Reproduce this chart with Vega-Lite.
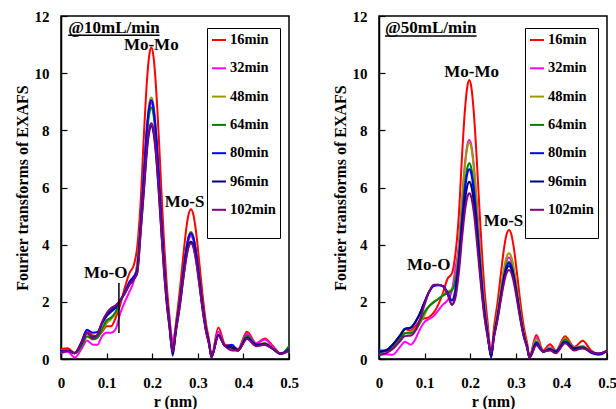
{
"$schema":"https://vega.github.io/schema/vega-lite/v6.json",
"background":"white",
"padding":{"left":13,"top":8,"right":5,"bottom":0},
"config":{
 "font":"Liberation Serif",
 "view":{"stroke":"black","strokeWidth":1.5},
 "axis":{"grid":false,"domainColor":"black","domainWidth":1.5,"tickColor":"black","tickSize":-6,"tickWidth":1.2,"labelFont":"Liberation Serif","labelFontWeight":"bold","labelFontSize":15,"labelColor":"black","titleFont":"Liberation Serif","titleFontWeight":"bold","titleFontSize":16,"titleColor":"black","labelFlush":false},
 "axisX":{"labelPadding":22,"titlePadding":3},
 "axisY":{"labelPadding":18,"titlePadding":4}
},
"datasets":{
"L":[
{"s":"16min","r":0,"v":0.35},{"s":"16min","r":0.015,"v":0.38},{"s":"16min","r":0.03,"v":0.2},{"s":"16min","r":0.045,"v":0.6},{"s":"16min","r":0.057,"v":1.0},{"s":"16min","r":0.07,"v":0.82},{"s":"16min","r":0.08,"v":0.8},{"s":"16min","r":0.09,"v":0.95},{"s":"16min","r":0.1,"v":1.15},{"s":"16min","r":0.11,"v":1.15},{"s":"16min","r":0.12,"v":1.45},{"s":"16min","r":0.13,"v":1.9},{"s":"16min","r":0.14,"v":2.5},{"s":"16min","r":0.15,"v":3.0},{"s":"16min","r":0.16,"v":3.3},{"s":"16min","r":0.167,"v":3.9},{"s":"16min","r":0.175,"v":5.6},{"s":"16min","r":0.182,"v":7.91},{"s":"16min","r":0.189,"v":9.85},{"s":"16min","r":0.194,"v":10.68},{"s":"16min","r":0.198,"v":10.9},{"s":"16min","r":0.202,"v":10.68},{"s":"16min","r":0.208,"v":9.61},{"s":"16min","r":0.214,"v":7.91},{"s":"16min","r":0.22,"v":5.95},{"s":"16min","r":0.226,"v":4.09},{"s":"16min","r":0.232,"v":2.57},{"s":"16min","r":0.238,"v":1.47},{"s":"16min","r":0.245,"v":0.45},{"s":"16min","r":0.252,"v":1.25},{"s":"16min","r":0.26,"v":2.31},{"s":"16min","r":0.268,"v":3.58},{"s":"16min","r":0.275,"v":4.6},{"s":"16min","r":0.28,"v":5.07},{"s":"16min","r":0.285,"v":5.24},{"s":"16min","r":0.29,"v":5.07},{"s":"16min","r":0.296,"v":4.47},{"s":"16min","r":0.303,"v":3.42},{"s":"16min","r":0.31,"v":2.31},{"s":"16min","r":0.318,"v":1.25},{"s":"16min","r":0.325,"v":0.64},{"s":"16min","r":0.33,"v":0.1},{"s":"16min","r":0.345,"v":1.1},{"s":"16min","r":0.36,"v":0.5},{"s":"16min","r":0.375,"v":0.45},{"s":"16min","r":0.388,"v":0.35},{"s":"16min","r":0.408,"v":0.95},{"s":"16min","r":0.428,"v":0.55},{"s":"16min","r":0.447,"v":0.72},{"s":"16min","r":0.465,"v":0.45},{"s":"16min","r":0.482,"v":0.2},{"s":"16min","r":0.5,"v":0.3},
{"s":"32min","r":0,"v":0.2},{"s":"32min","r":0.015,"v":0.25},{"s":"32min","r":0.03,"v":0.05},{"s":"32min","r":0.045,"v":0.35},{"s":"32min","r":0.057,"v":0.65},{"s":"32min","r":0.07,"v":0.5},{"s":"32min","r":0.08,"v":0.5},{"s":"32min","r":0.09,"v":0.8},{"s":"32min","r":0.1,"v":0.92},{"s":"32min","r":0.11,"v":0.92},{"s":"32min","r":0.12,"v":1.05},{"s":"32min","r":0.13,"v":1.6},{"s":"32min","r":0.14,"v":2.0},{"s":"32min","r":0.15,"v":2.35},{"s":"32min","r":0.16,"v":2.75},{"s":"32min","r":0.167,"v":3.3},{"s":"32min","r":0.175,"v":4.9},{"s":"32min","r":0.182,"v":6.5},{"s":"32min","r":0.189,"v":8.09},{"s":"32min","r":0.194,"v":8.77},{"s":"32min","r":0.198,"v":8.95},{"s":"32min","r":0.202,"v":8.77},{"s":"32min","r":0.208,"v":7.89},{"s":"32min","r":0.214,"v":6.5},{"s":"32min","r":0.22,"v":4.89},{"s":"32min","r":0.226,"v":3.36},{"s":"32min","r":0.232,"v":2.11},{"s":"32min","r":0.238,"v":1.3},{"s":"32min","r":0.245,"v":0.65},{"s":"32min","r":0.252,"v":1.1},{"s":"32min","r":0.26,"v":1.89},{"s":"32min","r":0.268,"v":2.94},{"s":"32min","r":0.275,"v":3.77},{"s":"32min","r":0.28,"v":4.16},{"s":"32min","r":0.285,"v":4.3},{"s":"32min","r":0.29,"v":4.16},{"s":"32min","r":0.296,"v":3.67},{"s":"32min","r":0.303,"v":2.81},{"s":"32min","r":0.31,"v":1.89},{"s":"32min","r":0.318,"v":1.03},{"s":"32min","r":0.325,"v":0.52},{"s":"32min","r":0.33,"v":0.1},{"s":"32min","r":0.345,"v":0.95},{"s":"32min","r":0.36,"v":0.45},{"s":"32min","r":0.375,"v":0.35},{"s":"32min","r":0.388,"v":0.3},{"s":"32min","r":0.408,"v":0.88},{"s":"32min","r":0.428,"v":0.55},{"s":"32min","r":0.447,"v":0.68},{"s":"32min","r":0.465,"v":0.4},{"s":"32min","r":0.482,"v":0.18},{"s":"32min","r":0.5,"v":0.35},
{"s":"48min","r":0,"v":0.3},{"s":"48min","r":0.015,"v":0.3},{"s":"48min","r":0.03,"v":0.2},{"s":"48min","r":0.045,"v":0.45},{"s":"48min","r":0.057,"v":0.78},{"s":"48min","r":0.07,"v":0.68},{"s":"48min","r":0.08,"v":0.75},{"s":"48min","r":0.09,"v":1.0},{"s":"48min","r":0.1,"v":1.25},{"s":"48min","r":0.11,"v":1.4},{"s":"48min","r":0.12,"v":1.6},{"s":"48min","r":0.13,"v":2.05},{"s":"48min","r":0.14,"v":2.3},{"s":"48min","r":0.15,"v":2.65},{"s":"48min","r":0.16,"v":2.85},{"s":"48min","r":0.167,"v":3.3},{"s":"48min","r":0.175,"v":4.9},{"s":"48min","r":0.182,"v":6.64},{"s":"48min","r":0.189,"v":8.27},{"s":"48min","r":0.194,"v":8.97},{"s":"48min","r":0.198,"v":9.15},{"s":"48min","r":0.202,"v":8.97},{"s":"48min","r":0.208,"v":8.07},{"s":"48min","r":0.214,"v":6.64},{"s":"48min","r":0.22,"v":5.0},{"s":"48min","r":0.226,"v":3.43},{"s":"48min","r":0.232,"v":2.16},{"s":"48min","r":0.238,"v":1.24},{"s":"48min","r":0.245,"v":0.3},{"s":"48min","r":0.252,"v":1.06},{"s":"48min","r":0.26,"v":1.96},{"s":"48min","r":0.268,"v":3.04},{"s":"48min","r":0.275,"v":3.9},{"s":"48min","r":0.28,"v":4.31},{"s":"48min","r":0.285,"v":4.45},{"s":"48min","r":0.29,"v":4.31},{"s":"48min","r":0.296,"v":3.8},{"s":"48min","r":0.303,"v":2.91},{"s":"48min","r":0.31,"v":1.96},{"s":"48min","r":0.318,"v":1.06},{"s":"48min","r":0.325,"v":0.54},{"s":"48min","r":0.33,"v":0.08},{"s":"48min","r":0.345,"v":0.85},{"s":"48min","r":0.36,"v":0.45},{"s":"48min","r":0.375,"v":0.4},{"s":"48min","r":0.388,"v":0.3},{"s":"48min","r":0.408,"v":0.8},{"s":"48min","r":0.428,"v":0.5},{"s":"48min","r":0.447,"v":0.55},{"s":"48min","r":0.465,"v":0.35},{"s":"48min","r":0.482,"v":0.18},{"s":"48min","r":0.5,"v":0.35},
{"s":"64min","r":0,"v":0.3},{"s":"64min","r":0.015,"v":0.3},{"s":"64min","r":0.03,"v":0.2},{"s":"64min","r":0.045,"v":0.45},{"s":"64min","r":0.057,"v":0.8},{"s":"64min","r":0.07,"v":0.7},{"s":"64min","r":0.08,"v":0.75},{"s":"64min","r":0.09,"v":1.05},{"s":"64min","r":0.1,"v":1.35},{"s":"64min","r":0.11,"v":1.45},{"s":"64min","r":0.12,"v":1.65},{"s":"64min","r":0.13,"v":2.05},{"s":"64min","r":0.14,"v":2.3},{"s":"64min","r":0.15,"v":2.6},{"s":"64min","r":0.16,"v":2.8},{"s":"64min","r":0.167,"v":3.2},{"s":"64min","r":0.175,"v":4.8},{"s":"64min","r":0.182,"v":6.39},{"s":"64min","r":0.189,"v":7.96},{"s":"64min","r":0.194,"v":8.62},{"s":"64min","r":0.198,"v":8.8},{"s":"64min","r":0.202,"v":8.62},{"s":"64min","r":0.208,"v":7.76},{"s":"64min","r":0.214,"v":6.39},{"s":"64min","r":0.22,"v":4.8},{"s":"64min","r":0.226,"v":3.3},{"s":"64min","r":0.232,"v":2.08},{"s":"64min","r":0.238,"v":1.19},{"s":"64min","r":0.245,"v":0.3},{"s":"64min","r":0.252,"v":1.05},{"s":"64min","r":0.26,"v":1.94},{"s":"64min","r":0.268,"v":3.01},{"s":"64min","r":0.275,"v":3.86},{"s":"64min","r":0.28,"v":4.26},{"s":"64min","r":0.285,"v":4.4},{"s":"64min","r":0.29,"v":4.26},{"s":"64min","r":0.296,"v":3.75},{"s":"64min","r":0.303,"v":2.87},{"s":"64min","r":0.31,"v":1.94},{"s":"64min","r":0.318,"v":1.05},{"s":"64min","r":0.325,"v":0.54},{"s":"64min","r":0.33,"v":0.08},{"s":"64min","r":0.345,"v":0.85},{"s":"64min","r":0.36,"v":0.45},{"s":"64min","r":0.375,"v":0.4},{"s":"64min","r":0.388,"v":0.3},{"s":"64min","r":0.408,"v":0.82},{"s":"64min","r":0.428,"v":0.5},{"s":"64min","r":0.447,"v":0.55},{"s":"64min","r":0.465,"v":0.35},{"s":"64min","r":0.482,"v":0.18},{"s":"64min","r":0.5,"v":0.45},
{"s":"80min","r":0,"v":0.28},{"s":"80min","r":0.015,"v":0.3},{"s":"80min","r":0.03,"v":0.22},{"s":"80min","r":0.045,"v":0.6},{"s":"80min","r":0.057,"v":1.02},{"s":"80min","r":0.07,"v":0.92},{"s":"80min","r":0.08,"v":0.95},{"s":"80min","r":0.09,"v":1.25},{"s":"80min","r":0.1,"v":1.5},{"s":"80min","r":0.11,"v":1.65},{"s":"80min","r":0.12,"v":1.8},{"s":"80min","r":0.13,"v":2.05},{"s":"80min","r":0.14,"v":2.35},{"s":"80min","r":0.15,"v":2.7},{"s":"80min","r":0.16,"v":2.9},{"s":"80min","r":0.167,"v":3.1},{"s":"80min","r":0.175,"v":4.8},{"s":"80min","r":0.182,"v":6.57},{"s":"80min","r":0.189,"v":8.18},{"s":"80min","r":0.194,"v":8.87},{"s":"80min","r":0.198,"v":9.05},{"s":"80min","r":0.202,"v":8.87},{"s":"80min","r":0.208,"v":7.98},{"s":"80min","r":0.214,"v":6.57},{"s":"80min","r":0.22,"v":4.94},{"s":"80min","r":0.226,"v":3.39},{"s":"80min","r":0.232,"v":2.14},{"s":"80min","r":0.238,"v":1.22},{"s":"80min","r":0.245,"v":0.12},{"s":"80min","r":0.252,"v":1.05},{"s":"80min","r":0.26,"v":1.94},{"s":"80min","r":0.268,"v":3.01},{"s":"80min","r":0.275,"v":3.86},{"s":"80min","r":0.28,"v":4.26},{"s":"80min","r":0.285,"v":4.4},{"s":"80min","r":0.29,"v":4.26},{"s":"80min","r":0.296,"v":3.75},{"s":"80min","r":0.303,"v":2.87},{"s":"80min","r":0.31,"v":1.94},{"s":"80min","r":0.318,"v":1.05},{"s":"80min","r":0.325,"v":0.54},{"s":"80min","r":0.33,"v":0.05},{"s":"80min","r":0.345,"v":0.85},{"s":"80min","r":0.36,"v":0.45},{"s":"80min","r":0.375,"v":0.5},{"s":"80min","r":0.388,"v":0.3},{"s":"80min","r":0.408,"v":0.75},{"s":"80min","r":0.428,"v":0.5},{"s":"80min","r":0.447,"v":0.5},{"s":"80min","r":0.465,"v":0.35},{"s":"80min","r":0.482,"v":0.18},{"s":"80min","r":0.5,"v":0.35},
{"s":"96min","r":0,"v":0.25},{"s":"96min","r":0.015,"v":0.28},{"s":"96min","r":0.03,"v":0.2},{"s":"96min","r":0.045,"v":0.55},{"s":"96min","r":0.057,"v":0.9},{"s":"96min","r":0.07,"v":0.75},{"s":"96min","r":0.08,"v":0.85},{"s":"96min","r":0.09,"v":1.25},{"s":"96min","r":0.1,"v":1.52},{"s":"96min","r":0.11,"v":1.72},{"s":"96min","r":0.12,"v":1.85},{"s":"96min","r":0.13,"v":2.05},{"s":"96min","r":0.14,"v":2.3},{"s":"96min","r":0.15,"v":2.6},{"s":"96min","r":0.16,"v":2.8},{"s":"96min","r":0.167,"v":3.0},{"s":"96min","r":0.175,"v":4.5},{"s":"96min","r":0.182,"v":5.92},{"s":"96min","r":0.189,"v":7.37},{"s":"96min","r":0.194,"v":7.99},{"s":"96min","r":0.198,"v":8.15},{"s":"96min","r":0.202,"v":7.99},{"s":"96min","r":0.208,"v":7.19},{"s":"96min","r":0.214,"v":5.92},{"s":"96min","r":0.22,"v":4.45},{"s":"96min","r":0.226,"v":3.06},{"s":"96min","r":0.232,"v":1.92},{"s":"96min","r":0.238,"v":1.1},{"s":"96min","r":0.245,"v":0.2},{"s":"96min","r":0.252,"v":0.98},{"s":"96min","r":0.26,"v":1.8},{"s":"96min","r":0.268,"v":2.8},{"s":"96min","r":0.275,"v":3.6},{"s":"96min","r":0.28,"v":3.97},{"s":"96min","r":0.285,"v":4.1},{"s":"96min","r":0.29,"v":3.97},{"s":"96min","r":0.296,"v":3.5},{"s":"96min","r":0.303,"v":2.68},{"s":"96min","r":0.31,"v":1.8},{"s":"96min","r":0.318,"v":0.98},{"s":"96min","r":0.325,"v":0.5},{"s":"96min","r":0.33,"v":0.08},{"s":"96min","r":0.345,"v":0.82},{"s":"96min","r":0.36,"v":0.45},{"s":"96min","r":0.375,"v":0.4},{"s":"96min","r":0.388,"v":0.3},{"s":"96min","r":0.408,"v":0.72},{"s":"96min","r":0.428,"v":0.5},{"s":"96min","r":0.447,"v":0.52},{"s":"96min","r":0.465,"v":0.35},{"s":"96min","r":0.482,"v":0.18},{"s":"96min","r":0.5,"v":0.3},
{"s":"102min","r":0,"v":0.25},{"s":"102min","r":0.015,"v":0.28},{"s":"102min","r":0.03,"v":0.2},{"s":"102min","r":0.045,"v":0.55},{"s":"102min","r":0.057,"v":0.92},{"s":"102min","r":0.07,"v":0.72},{"s":"102min","r":0.08,"v":0.85},{"s":"102min","r":0.09,"v":1.3},{"s":"102min","r":0.1,"v":1.6},{"s":"102min","r":0.11,"v":1.78},{"s":"102min","r":0.12,"v":1.88},{"s":"102min","r":0.13,"v":2.05},{"s":"102min","r":0.14,"v":2.3},{"s":"102min","r":0.15,"v":2.6},{"s":"102min","r":0.16,"v":2.8},{"s":"102min","r":0.167,"v":3.0},{"s":"102min","r":0.175,"v":4.5},{"s":"102min","r":0.182,"v":5.99},{"s":"102min","r":0.189,"v":7.46},{"s":"102min","r":0.194,"v":8.09},{"s":"102min","r":0.198,"v":8.25},{"s":"102min","r":0.202,"v":8.09},{"s":"102min","r":0.208,"v":7.28},{"s":"102min","r":0.214,"v":5.99},{"s":"102min","r":0.22,"v":4.5},{"s":"102min","r":0.226,"v":3.09},{"s":"102min","r":0.232,"v":1.95},{"s":"102min","r":0.238,"v":1.11},{"s":"102min","r":0.245,"v":0.25},{"s":"102min","r":0.252,"v":0.97},{"s":"102min","r":0.26,"v":1.78},{"s":"102min","r":0.268,"v":2.77},{"s":"102min","r":0.275,"v":3.55},{"s":"102min","r":0.28,"v":3.92},{"s":"102min","r":0.285,"v":4.05},{"s":"102min","r":0.29,"v":3.92},{"s":"102min","r":0.296,"v":3.45},{"s":"102min","r":0.303,"v":2.64},{"s":"102min","r":0.31,"v":1.78},{"s":"102min","r":0.318,"v":0.97},{"s":"102min","r":0.325,"v":0.49},{"s":"102min","r":0.33,"v":0.08},{"s":"102min","r":0.345,"v":0.8},{"s":"102min","r":0.36,"v":0.45},{"s":"102min","r":0.375,"v":0.3},{"s":"102min","r":0.388,"v":0.3},{"s":"102min","r":0.408,"v":0.7},{"s":"102min","r":0.428,"v":0.45},{"s":"102min","r":0.447,"v":0.5},{"s":"102min","r":0.465,"v":0.35},{"s":"102min","r":0.482,"v":0.18},{"s":"102min","r":0.5,"v":0.3}
],
"R":[
{"s":"16min","r":0,"v":0.3},{"s":"16min","r":0.015,"v":0.3},{"s":"16min","r":0.03,"v":0.45},{"s":"16min","r":0.045,"v":0.75},{"s":"16min","r":0.057,"v":1.05},{"s":"16min","r":0.07,"v":1.0},{"s":"16min","r":0.08,"v":1.15},{"s":"16min","r":0.09,"v":1.35},{"s":"16min","r":0.1,"v":1.42},{"s":"16min","r":0.11,"v":1.47},{"s":"16min","r":0.12,"v":1.62},{"s":"16min","r":0.13,"v":1.9},{"s":"16min","r":0.14,"v":2.3},{"s":"16min","r":0.15,"v":2.8},{"s":"16min","r":0.16,"v":3.0},{"s":"16min","r":0.167,"v":3.6},{"s":"16min","r":0.175,"v":5.0},{"s":"16min","r":0.182,"v":7.09},{"s":"16min","r":0.189,"v":8.82},{"s":"16min","r":0.194,"v":9.56},{"s":"16min","r":0.198,"v":9.76},{"s":"16min","r":0.202,"v":9.56},{"s":"16min","r":0.208,"v":8.61},{"s":"16min","r":0.214,"v":7.09},{"s":"16min","r":0.22,"v":5.33},{"s":"16min","r":0.226,"v":3.66},{"s":"16min","r":0.232,"v":2.3},{"s":"16min","r":0.238,"v":1.32},{"s":"16min","r":0.246,"v":0.15},{"s":"16min","r":0.252,"v":1.08},{"s":"16min","r":0.26,"v":1.98},{"s":"16min","r":0.268,"v":3.08},{"s":"16min","r":0.275,"v":3.96},{"s":"16min","r":0.28,"v":4.37},{"s":"16min","r":0.285,"v":4.51},{"s":"16min","r":0.29,"v":4.37},{"s":"16min","r":0.296,"v":3.85},{"s":"16min","r":0.303,"v":2.95},{"s":"16min","r":0.31,"v":1.98},{"s":"16min","r":0.318,"v":1.08},{"s":"16min","r":0.325,"v":0.55},{"s":"16min","r":0.33,"v":0.1},{"s":"16min","r":0.345,"v":0.84},{"s":"16min","r":0.36,"v":0.3},{"s":"16min","r":0.375,"v":0.52},{"s":"16min","r":0.388,"v":0.3},{"s":"16min","r":0.408,"v":0.8},{"s":"16min","r":0.428,"v":0.42},{"s":"16min","r":0.447,"v":0.64},{"s":"16min","r":0.465,"v":0.3},{"s":"16min","r":0.482,"v":0.18},{"s":"16min","r":0.5,"v":0.3},
{"s":"32min","r":0,"v":0.15},{"s":"32min","r":0.015,"v":0.17},{"s":"32min","r":0.03,"v":0.15},{"s":"32min","r":0.045,"v":0.4},{"s":"32min","r":0.057,"v":0.6},{"s":"32min","r":0.07,"v":0.5},{"s":"32min","r":0.08,"v":0.7},{"s":"32min","r":0.09,"v":1.05},{"s":"32min","r":0.1,"v":1.3},{"s":"32min","r":0.11,"v":1.4},{"s":"32min","r":0.12,"v":1.5},{"s":"32min","r":0.13,"v":1.7},{"s":"32min","r":0.14,"v":1.9},{"s":"32min","r":0.15,"v":2.05},{"s":"32min","r":0.16,"v":2.4},{"s":"32min","r":0.167,"v":3.1},{"s":"32min","r":0.175,"v":4.0},{"s":"32min","r":0.182,"v":5.56},{"s":"32min","r":0.189,"v":6.92},{"s":"32min","r":0.194,"v":7.51},{"s":"32min","r":0.198,"v":7.66},{"s":"32min","r":0.202,"v":7.51},{"s":"32min","r":0.208,"v":6.76},{"s":"32min","r":0.214,"v":5.56},{"s":"32min","r":0.22,"v":4.18},{"s":"32min","r":0.226,"v":2.87},{"s":"32min","r":0.232,"v":1.81},{"s":"32min","r":0.238,"v":1.03},{"s":"32min","r":0.246,"v":0.35},{"s":"32min","r":0.252,"v":0.85},{"s":"32min","r":0.26,"v":1.56},{"s":"32min","r":0.268,"v":2.43},{"s":"32min","r":0.275,"v":3.11},{"s":"32min","r":0.28,"v":3.44},{"s":"32min","r":0.285,"v":3.55},{"s":"32min","r":0.29,"v":3.44},{"s":"32min","r":0.296,"v":3.03},{"s":"32min","r":0.303,"v":2.32},{"s":"32min","r":0.31,"v":1.56},{"s":"32min","r":0.318,"v":0.85},{"s":"32min","r":0.325,"v":0.43},{"s":"32min","r":0.33,"v":0.05},{"s":"32min","r":0.345,"v":0.75},{"s":"32min","r":0.36,"v":0.26},{"s":"32min","r":0.375,"v":0.4},{"s":"32min","r":0.388,"v":0.25},{"s":"32min","r":0.408,"v":0.72},{"s":"32min","r":0.428,"v":0.4},{"s":"32min","r":0.447,"v":0.45},{"s":"32min","r":0.465,"v":0.25},{"s":"32min","r":0.482,"v":0.18},{"s":"32min","r":0.5,"v":0.28},
{"s":"48min","r":0,"v":0.25},{"s":"48min","r":0.015,"v":0.28},{"s":"48min","r":0.03,"v":0.4},{"s":"48min","r":0.045,"v":0.65},{"s":"48min","r":0.057,"v":0.9},{"s":"48min","r":0.07,"v":0.95},{"s":"48min","r":0.08,"v":1.05},{"s":"48min","r":0.09,"v":1.25},{"s":"48min","r":0.1,"v":1.55},{"s":"48min","r":0.11,"v":1.85},{"s":"48min","r":0.12,"v":2.0},{"s":"48min","r":0.13,"v":2.1},{"s":"48min","r":0.14,"v":2.25},{"s":"48min","r":0.15,"v":2.35},{"s":"48min","r":0.16,"v":2.45},{"s":"48min","r":0.167,"v":2.8},{"s":"48min","r":0.175,"v":3.9},{"s":"48min","r":0.182,"v":5.5},{"s":"48min","r":0.189,"v":6.85},{"s":"48min","r":0.194,"v":7.43},{"s":"48min","r":0.198,"v":7.58},{"s":"48min","r":0.202,"v":7.43},{"s":"48min","r":0.208,"v":6.69},{"s":"48min","r":0.214,"v":5.5},{"s":"48min","r":0.22,"v":4.14},{"s":"48min","r":0.226,"v":2.84},{"s":"48min","r":0.232,"v":1.79},{"s":"48min","r":0.238,"v":1.02},{"s":"48min","r":0.246,"v":0.1},{"s":"48min","r":0.252,"v":0.88},{"s":"48min","r":0.26,"v":1.63},{"s":"48min","r":0.268,"v":2.53},{"s":"48min","r":0.275,"v":3.24},{"s":"48min","r":0.28,"v":3.58},{"s":"48min","r":0.285,"v":3.7},{"s":"48min","r":0.29,"v":3.58},{"s":"48min","r":0.296,"v":3.16},{"s":"48min","r":0.303,"v":2.42},{"s":"48min","r":0.31,"v":1.63},{"s":"48min","r":0.318,"v":0.88},{"s":"48min","r":0.325,"v":0.45},{"s":"48min","r":0.33,"v":0.05},{"s":"48min","r":0.345,"v":0.7},{"s":"48min","r":0.36,"v":0.26},{"s":"48min","r":0.375,"v":0.4},{"s":"48min","r":0.388,"v":0.25},{"s":"48min","r":0.408,"v":0.72},{"s":"48min","r":0.428,"v":0.4},{"s":"48min","r":0.447,"v":0.45},{"s":"48min","r":0.465,"v":0.25},{"s":"48min","r":0.482,"v":0.18},{"s":"48min","r":0.5,"v":0.28},
{"s":"64min","r":0,"v":0.25},{"s":"64min","r":0.015,"v":0.28},{"s":"64min","r":0.03,"v":0.38},{"s":"64min","r":0.045,"v":0.65},{"s":"64min","r":0.057,"v":0.9},{"s":"64min","r":0.07,"v":0.9},{"s":"64min","r":0.08,"v":1.0},{"s":"64min","r":0.09,"v":1.3},{"s":"64min","r":0.1,"v":1.65},{"s":"64min","r":0.11,"v":1.85},{"s":"64min","r":0.12,"v":1.98},{"s":"64min","r":0.13,"v":2.1},{"s":"64min","r":0.14,"v":2.22},{"s":"64min","r":0.15,"v":2.3},{"s":"64min","r":0.16,"v":2.4},{"s":"64min","r":0.167,"v":2.7},{"s":"64min","r":0.175,"v":3.55},{"s":"64min","r":0.182,"v":4.97},{"s":"64min","r":0.189,"v":6.19},{"s":"64min","r":0.194,"v":6.71},{"s":"64min","r":0.198,"v":6.85},{"s":"64min","r":0.202,"v":6.71},{"s":"64min","r":0.208,"v":6.04},{"s":"64min","r":0.214,"v":4.97},{"s":"64min","r":0.22,"v":3.74},{"s":"64min","r":0.226,"v":2.57},{"s":"64min","r":0.232,"v":1.62},{"s":"64min","r":0.238,"v":0.92},{"s":"64min","r":0.246,"v":0.1},{"s":"64min","r":0.252,"v":0.81},{"s":"64min","r":0.26,"v":1.5},{"s":"64min","r":0.268,"v":2.33},{"s":"64min","r":0.275,"v":2.98},{"s":"64min","r":0.28,"v":3.29},{"s":"64min","r":0.285,"v":3.4},{"s":"64min","r":0.29,"v":3.29},{"s":"64min","r":0.296,"v":2.9},{"s":"64min","r":0.303,"v":2.22},{"s":"64min","r":0.31,"v":1.5},{"s":"64min","r":0.318,"v":0.81},{"s":"64min","r":0.325,"v":0.41},{"s":"64min","r":0.33,"v":0.05},{"s":"64min","r":0.345,"v":0.6},{"s":"64min","r":0.36,"v":0.26},{"s":"64min","r":0.375,"v":0.35},{"s":"64min","r":0.388,"v":0.25},{"s":"64min","r":0.408,"v":0.68},{"s":"64min","r":0.428,"v":0.38},{"s":"64min","r":0.447,"v":0.42},{"s":"64min","r":0.465,"v":0.25},{"s":"64min","r":0.482,"v":0.18},{"s":"64min","r":0.5,"v":0.28},
{"s":"80min","r":0,"v":0.25},{"s":"80min","r":0.015,"v":0.3},{"s":"80min","r":0.03,"v":0.5},{"s":"80min","r":0.045,"v":0.8},{"s":"80min","r":0.057,"v":1.05},{"s":"80min","r":0.07,"v":1.1},{"s":"80min","r":0.08,"v":1.3},{"s":"80min","r":0.09,"v":1.6},{"s":"80min","r":0.1,"v":2.0},{"s":"80min","r":0.11,"v":2.35},{"s":"80min","r":0.12,"v":2.55},{"s":"80min","r":0.13,"v":2.58},{"s":"80min","r":0.14,"v":2.55},{"s":"80min","r":0.15,"v":2.35},{"s":"80min","r":0.16,"v":2.05},{"s":"80min","r":0.167,"v":2.4},{"s":"80min","r":0.175,"v":3.45},{"s":"80min","r":0.182,"v":4.82},{"s":"80min","r":0.189,"v":6.0},{"s":"80min","r":0.194,"v":6.51},{"s":"80min","r":0.198,"v":6.64},{"s":"80min","r":0.202,"v":6.51},{"s":"80min","r":0.208,"v":5.86},{"s":"80min","r":0.214,"v":4.82},{"s":"80min","r":0.22,"v":3.63},{"s":"80min","r":0.226,"v":2.49},{"s":"80min","r":0.232,"v":1.57},{"s":"80min","r":0.238,"v":0.9},{"s":"80min","r":0.246,"v":0.05},{"s":"80min","r":0.252,"v":0.8},{"s":"80min","r":0.26,"v":1.47},{"s":"80min","r":0.268,"v":2.29},{"s":"80min","r":0.275,"v":2.94},{"s":"80min","r":0.28,"v":3.24},{"s":"80min","r":0.285,"v":3.35},{"s":"80min","r":0.29,"v":3.24},{"s":"80min","r":0.296,"v":2.86},{"s":"80min","r":0.303,"v":2.19},{"s":"80min","r":0.31,"v":1.47},{"s":"80min","r":0.318,"v":0.8},{"s":"80min","r":0.325,"v":0.41},{"s":"80min","r":0.33,"v":0.05},{"s":"80min","r":0.345,"v":0.57},{"s":"80min","r":0.36,"v":0.26},{"s":"80min","r":0.375,"v":0.35},{"s":"80min","r":0.388,"v":0.25},{"s":"80min","r":0.408,"v":0.6},{"s":"80min","r":0.428,"v":0.38},{"s":"80min","r":0.447,"v":0.4},{"s":"80min","r":0.465,"v":0.22},{"s":"80min","r":0.482,"v":0.15},{"s":"80min","r":0.5,"v":0.28},
{"s":"96min","r":0,"v":0.25},{"s":"96min","r":0.015,"v":0.3},{"s":"96min","r":0.03,"v":0.5},{"s":"96min","r":0.045,"v":0.8},{"s":"96min","r":0.057,"v":1.05},{"s":"96min","r":0.07,"v":1.1},{"s":"96min","r":0.08,"v":1.3},{"s":"96min","r":0.09,"v":1.6},{"s":"96min","r":0.1,"v":2.0},{"s":"96min","r":0.11,"v":2.35},{"s":"96min","r":0.12,"v":2.58},{"s":"96min","r":0.13,"v":2.6},{"s":"96min","r":0.14,"v":2.55},{"s":"96min","r":0.15,"v":2.3},{"s":"96min","r":0.16,"v":1.9},{"s":"96min","r":0.167,"v":2.2},{"s":"96min","r":0.175,"v":3.2},{"s":"96min","r":0.182,"v":4.5},{"s":"96min","r":0.189,"v":5.6},{"s":"96min","r":0.194,"v":6.08},{"s":"96min","r":0.198,"v":6.2},{"s":"96min","r":0.202,"v":6.08},{"s":"96min","r":0.208,"v":5.47},{"s":"96min","r":0.214,"v":4.5},{"s":"96min","r":0.22,"v":3.39},{"s":"96min","r":0.226,"v":2.33},{"s":"96min","r":0.232,"v":1.46},{"s":"96min","r":0.238,"v":0.84},{"s":"96min","r":0.246,"v":0.1},{"s":"96min","r":0.252,"v":0.78},{"s":"96min","r":0.26,"v":1.43},{"s":"96min","r":0.268,"v":2.22},{"s":"96min","r":0.275,"v":2.85},{"s":"96min","r":0.28,"v":3.15},{"s":"96min","r":0.285,"v":3.25},{"s":"96min","r":0.29,"v":3.15},{"s":"96min","r":0.296,"v":2.77},{"s":"96min","r":0.303,"v":2.12},{"s":"96min","r":0.31,"v":1.43},{"s":"96min","r":0.318,"v":0.78},{"s":"96min","r":0.325,"v":0.4},{"s":"96min","r":0.33,"v":0.05},{"s":"96min","r":0.345,"v":0.5},{"s":"96min","r":0.36,"v":0.26},{"s":"96min","r":0.375,"v":0.32},{"s":"96min","r":0.388,"v":0.25},{"s":"96min","r":0.408,"v":0.58},{"s":"96min","r":0.428,"v":0.35},{"s":"96min","r":0.447,"v":0.38},{"s":"96min","r":0.465,"v":0.25},{"s":"96min","r":0.482,"v":0.18},{"s":"96min","r":0.5,"v":0.28},
{"s":"102min","r":0,"v":0.15},{"s":"102min","r":0.015,"v":0.2},{"s":"102min","r":0.03,"v":0.35},{"s":"102min","r":0.045,"v":0.6},{"s":"102min","r":0.057,"v":0.8},{"s":"102min","r":0.07,"v":0.82},{"s":"102min","r":0.08,"v":1.0},{"s":"102min","r":0.09,"v":1.4},{"s":"102min","r":0.1,"v":1.9},{"s":"102min","r":0.11,"v":2.35},{"s":"102min","r":0.12,"v":2.6},{"s":"102min","r":0.13,"v":2.6},{"s":"102min","r":0.14,"v":2.55},{"s":"102min","r":0.15,"v":2.3},{"s":"102min","r":0.16,"v":1.9},{"s":"102min","r":0.167,"v":2.1},{"s":"102min","r":0.175,"v":3.0},{"s":"102min","r":0.182,"v":4.21},{"s":"102min","r":0.189,"v":5.24},{"s":"102min","r":0.194,"v":5.68},{"s":"102min","r":0.198,"v":5.8},{"s":"102min","r":0.202,"v":5.68},{"s":"102min","r":0.208,"v":5.12},{"s":"102min","r":0.214,"v":4.21},{"s":"102min","r":0.22,"v":3.17},{"s":"102min","r":0.226,"v":2.18},{"s":"102min","r":0.232,"v":1.37},{"s":"102min","r":0.238,"v":0.78},{"s":"102min","r":0.246,"v":0.2},{"s":"102min","r":0.252,"v":0.74},{"s":"102min","r":0.26,"v":1.37},{"s":"102min","r":0.268,"v":2.13},{"s":"102min","r":0.275,"v":2.73},{"s":"102min","r":0.28,"v":3.01},{"s":"102min","r":0.285,"v":3.11},{"s":"102min","r":0.29,"v":3.01},{"s":"102min","r":0.296,"v":2.65},{"s":"102min","r":0.303,"v":2.03},{"s":"102min","r":0.31,"v":1.37},{"s":"102min","r":0.318,"v":0.74},{"s":"102min","r":0.325,"v":0.38},{"s":"102min","r":0.33,"v":0.05},{"s":"102min","r":0.345,"v":0.48},{"s":"102min","r":0.36,"v":0.26},{"s":"102min","r":0.375,"v":0.3},{"s":"102min","r":0.388,"v":0.2},{"s":"102min","r":0.408,"v":0.55},{"s":"102min","r":0.428,"v":0.3},{"s":"102min","r":0.447,"v":0.38},{"s":"102min","r":0.465,"v":0.25},{"s":"102min","r":0.482,"v":0.18},{"s":"102min","r":0.5,"v":0.28}
]
},
"spacing":31,
"resolve":{"legend":{"color":"independent"}},
"hconcat":[
{"width":228,"height":343,
 "layer":[
  {"data":{"name":"L"},"mark":{"type":"line","strokeWidth":2,"interpolate":"monotone","clip":true},
   "encoding":{
    "x":{"field":"r","type":"quantitative","scale":{"domain":[0,0.5],"nice":false},"axis":{"values":[0,0.1,0.2,0.3,0.4,0.5],"format":"~g"},"title":"r (nm)"},
    "y":{"field":"v","type":"quantitative","scale":{"domain":[0,12],"nice":false},"axis":{"values":[0,2,4,6,8,10,12]},"title":"Fourier transforms of EXAFS"},
    "color":{"field":"s","type":"nominal","scale":{"domain":["16min","32min","48min","64min","80min","96min","102min"],"range":["#ff0000","#ff00ff","#999900","#008000","#0000ff","#000080","#800080"]},
     "legend":{"orient":"none","legendX":146,"legendY":12,"symbolType":"stroke","symbolSize":196,"symbolStrokeWidth":2,"labelFont":"Liberation Serif","labelFontWeight":"bold","labelFontSize":14.5,"labelColor":"black","rowPadding":13.3,"padding":4,"strokeColor":"black","fillColor":"white","labelOffset":3,"title":" ","titleOrient":"bottom","titleFontSize":11,"titlePadding":7}}
   }},
  {"data":{"values":[{"t":"Mo-Mo","r":0.198,"v":10.81},{"t":"Mo-S","r":0.271,"v":5.32},{"t":"Mo-O","r":0.098,"v":2.83}]},
   "mark":{"type":"text","font":"Liberation Serif","fontWeight":"bold","fontSize":17,"baseline":"alphabetic","color":"black"},
   "encoding":{"x":{"field":"r","type":"quantitative","scale":{"domain":[0,0.5],"nice":false},"title":"r (nm)"},"y":{"field":"v","type":"quantitative","scale":{"domain":[0,12],"nice":false},"title":"Fourier transforms of EXAFS"},"text":{"field":"t"}}},
  {"data":{"values":[{"t":"@10mL/min","r":0.0158,"v":11.42}]},
   "mark":{"type":"text","font":"Liberation Serif","fontWeight":"bold","fontSize":17,"baseline":"alphabetic","align":"left","color":"black"},
   "encoding":{"x":{"field":"r","type":"quantitative","title":"r (nm)"},"y":{"field":"v","type":"quantitative","title":"Fourier transforms of EXAFS"},"text":{"field":"t"}}},
  {"data":{"values":[{"r":0.0158,"r2":0.216,"v":11.33}]},
   "mark":{"type":"rule","strokeWidth":1.5,"color":"black"},
   "encoding":{"x":{"field":"r","type":"quantitative","title":"r (nm)"},"x2":{"field":"r2"},"y":{"field":"v","type":"quantitative","title":"Fourier transforms of EXAFS"}}},
  {"data":{"values":[{"r":0.127,"v":0.91,"v2":2.66}]},
   "mark":{"type":"rule","strokeWidth":1.5,"color":"black"},
   "encoding":{"x":{"field":"r","type":"quantitative","title":"r (nm)"},"y":{"field":"v","type":"quantitative","title":"Fourier transforms of EXAFS"},"y2":{"field":"v2"}}}
 ]},
{"width":228,"height":343,
 "layer":[
  {"data":{"name":"R"},"mark":{"type":"line","strokeWidth":2,"interpolate":"monotone","clip":true},
   "encoding":{
    "x":{"field":"r","type":"quantitative","scale":{"domain":[0,0.5],"nice":false},"axis":{"values":[0,0.1,0.2,0.3,0.4,0.5],"format":"~g"},"title":"r (nm)"},
    "y":{"field":"v","type":"quantitative","scale":{"domain":[0,12],"nice":false},"axis":{"values":[0,2,4,6,8,10,12]},"title":"Fourier transforms of EXAFS"},
    "color":{"field":"s","type":"nominal","scale":{"domain":["16min","32min","48min","64min","80min","96min","102min"],"range":["#ff0000","#ff00ff","#999900","#008000","#0000ff","#000080","#800080"]},
     "legend":{"orient":"none","legendX":146,"legendY":12,"symbolType":"stroke","symbolSize":196,"symbolStrokeWidth":2,"labelFont":"Liberation Serif","labelFontWeight":"bold","labelFontSize":14.5,"labelColor":"black","rowPadding":13.3,"padding":4,"strokeColor":"black","fillColor":"white","labelOffset":3,"title":" ","titleOrient":"bottom","titleFontSize":11,"titlePadding":7}}
   }},
  {"data":{"values":[{"t":"Mo-Mo","r":0.203,"v":9.88},{"t":"Mo-S","r":0.273,"v":4.64},{"t":"Mo-O","r":0.109,"v":3.11}]},
   "mark":{"type":"text","font":"Liberation Serif","fontWeight":"bold","fontSize":17,"baseline":"alphabetic","color":"black"},
   "encoding":{"x":{"field":"r","type":"quantitative","scale":{"domain":[0,0.5],"nice":false},"title":"r (nm)"},"y":{"field":"v","type":"quantitative","scale":{"domain":[0,12],"nice":false},"title":"Fourier transforms of EXAFS"},"text":{"field":"t"}}},
  {"data":{"values":[{"t":"@50mL/min","r":0.0132,"v":11.4}]},
   "mark":{"type":"text","font":"Liberation Serif","fontWeight":"bold","fontSize":17,"baseline":"alphabetic","align":"left","color":"black"},
   "encoding":{"x":{"field":"r","type":"quantitative","title":"r (nm)"},"y":{"field":"v","type":"quantitative","title":"Fourier transforms of EXAFS"},"text":{"field":"t"}}},
  {"data":{"values":[{"r":0.0132,"r2":0.214,"v":11.3}]},
   "mark":{"type":"rule","strokeWidth":1.5,"color":"black"},
   "encoding":{"x":{"field":"r","type":"quantitative","title":"r (nm)"},"x2":{"field":"r2"},"y":{"field":"v","type":"quantitative","title":"Fourier transforms of EXAFS"}}}
 ]}
]
}
